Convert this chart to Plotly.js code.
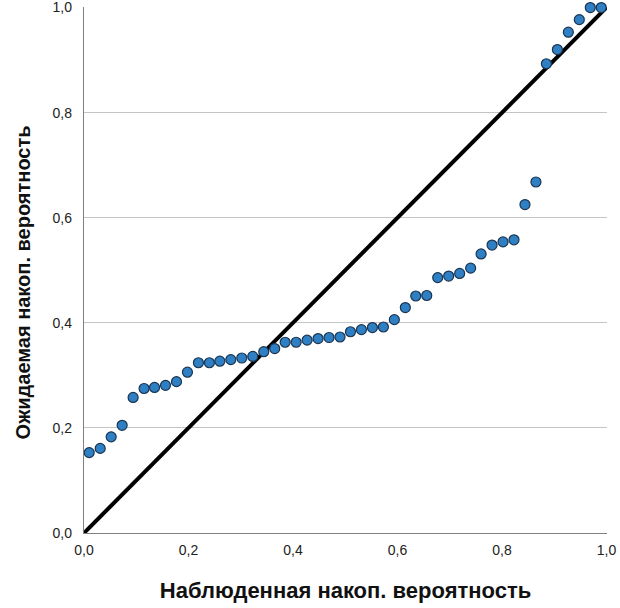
<!DOCTYPE html>
<html>
<head>
<meta charset="utf-8">
<script src="https://cdn.plot.ly/plotly-3.0.1.min.js"></script>
<style>html,body{margin:0;padding:0;background:#fff;}#chart{width:620px;height:608px;}</style>
</head>
<body>
<div id="chart"></div>
<script>
// Observed cumulative probability (x) and expected cumulative probability (y)
var observedProb = [0.010, 0.031, 0.052, 0.073, 0.094, 0.115, 0.135, 0.156, 0.177, 0.198,
  0.219, 0.240, 0.260, 0.281, 0.302, 0.323, 0.344, 0.365, 0.385, 0.406,
  0.427, 0.448, 0.469, 0.490, 0.510, 0.531, 0.552, 0.573, 0.594, 0.615,
  0.635, 0.656, 0.677, 0.698, 0.719, 0.740, 0.760, 0.781, 0.802, 0.823,
  0.844, 0.865, 0.885, 0.906, 0.927, 0.948, 0.969, 0.990];
var expectedProb = [0.153, 0.161, 0.183, 0.205, 0.258, 0.275, 0.277, 0.281, 0.288, 0.306,
  0.324, 0.324, 0.327, 0.330, 0.333, 0.336, 0.345, 0.351, 0.363, 0.363,
  0.367, 0.370, 0.372, 0.373, 0.383, 0.387, 0.391, 0.392, 0.406, 0.429,
  0.451, 0.452, 0.486, 0.489, 0.494, 0.504, 0.531, 0.548, 0.554, 0.558,
  0.625, 0.668, 0.893, 0.920, 0.953, 0.977, 1.000, 1.000];
var refLineX = [0, 1];
var refLineY = [0, 1];
var tickVals = [0, 0.2, 0.4, 0.6, 0.8, 1.0];
var xTitle = "Наблюденная накоп. вероятность";
var yTitle = "Ожидаемая накоп. вероятность";

var traces = [
  {x: refLineX, y: refLineY, type: "scatter", mode: "lines",
   line: {color: "#000000", width: 4}, hoverinfo: "skip", cliponaxis: false},
  {x: observedProb, y: expectedProb, type: "scatter", mode: "markers",
   marker: {size: 10, color: "#2e7fc4", line: {color: "#1b3550", width: 1.2}},
   cliponaxis: false}
];

var layout = {
  width: 620, height: 608,
  margin: {l: 84, r: 13, t: 7, b: 75},
  paper_bgcolor: "#ffffff", plot_bgcolor: "#ffffff",
  separators: ",.",
  showlegend: false,
  font: {family: "Liberation Sans, Arial, sans-serif", color: "#222222", size: 14},
  xaxis: {
    range: [0, 1.001], tickvals: tickVals, tickformat: ".1f",
    showgrid: false, zeroline: false,
    showline: true, linecolor: "#808080", linewidth: 1.2,
    ticks: "outside", ticklen: 4, tickcolor: "rgba(0,0,0,0)",
    ticklabeloverflow: "allow",
    tickfont: {size: 14, color: "#222222"},
    title: {text: xTitle, font: {size: 22, color: "#111111", family: "Liberation Sans, Arial, sans-serif", weight: "bold"}, standoff: 25}
  },
  yaxis: {
    range: [0, 1.001], tickvals: tickVals, tickformat: ".1f",
    showgrid: true, gridcolor: "#c4c4c4", gridwidth: 1,
    zeroline: false,
    showline: true, linecolor: "#808080", linewidth: 1.2,
    ticks: "outside", ticklen: 8, tickcolor: "rgba(0,0,0,0)",
    ticklabeloverflow: "allow",
    tickfont: {size: 14, color: "#222222"},
    title: {text: ""}
  },
  annotations: [{
    text: "<b>" + yTitle + "</b>", xref: "paper", yref: "paper",
    x: -0.116, y: 0.477, xanchor: "center", yanchor: "middle",
    textangle: -90, showarrow: false,
    font: {size: 20, color: "#111111", family: "Liberation Sans, Arial, sans-serif"}
  }]
};

Plotly.newPlot("chart", traces, layout, {displayModeBar: false, staticPlot: true});
</script>
</body>
</html>
